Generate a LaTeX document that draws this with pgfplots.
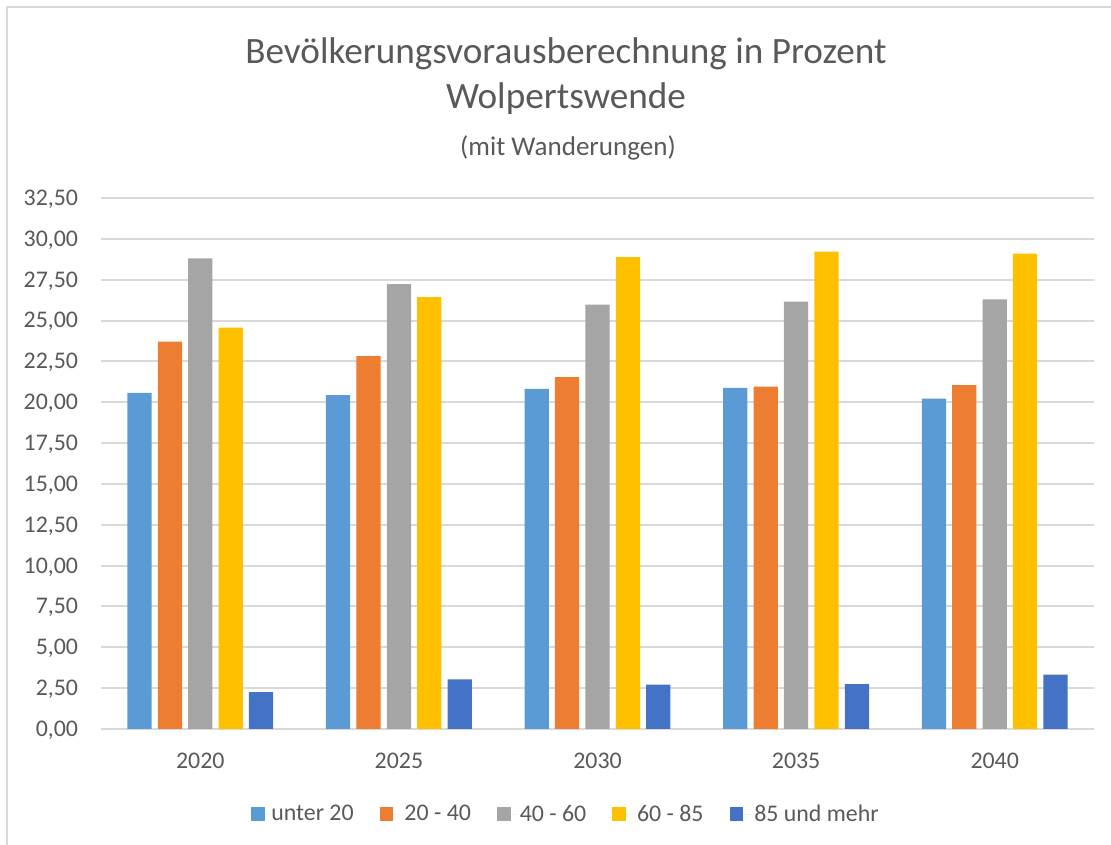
\documentclass[border=0pt]{standalone}
\usepackage{pgfplots}
\usepackage{pgfplotstable}
\usepackage{fontspec}
\setmainfont{Carlito}
\pgfplotsset{compat=1.18}
\definecolor{cA}{HTML}{5B9BD5}
\definecolor{cB}{HTML}{ED7D31}
\definecolor{cC}{HTML}{A5A5A5}
\definecolor{cD}{HTML}{FFC000}
\definecolor{cE}{HTML}{4472C4}
\definecolor{gridc}{HTML}{D9D9D9}
\definecolor{txt}{HTML}{595959}
\pgfplotstableread{
x u20 a2040 a4060 a6085 a85
0 20.57 23.71 28.80 24.57 2.25
1 20.43 22.82 27.23 26.43 3.03
2 20.82 21.53 25.98 28.88 2.72
3 20.88 20.96 26.16 29.21 2.74
4 20.22 21.04 26.29 29.09 3.33
}\datatable
\begin{document}
\begin{tikzpicture}
\useasboundingbox (0,0) rectangle (833.25pt,633.75pt);
\draw[gridc, line width=1.5pt] (5.6pt,0) -- (5.6pt,628.6pt) -- (833.25pt,628.6pt);
\node[txt, anchor=base, inner sep=0pt, font=\fontsize{27.9}{32}\selectfont] at (424.5pt,585.75pt) {Bevölkerungsvorausberechnung in Prozent};
\node[txt, anchor=base, inner sep=0pt, font=\fontsize{27.9}{32}\selectfont] at (424.5pt,552pt) {Wolpertswende};
\node[txt, anchor=base, inner sep=0pt, font=\fontsize{20.3}{24}\selectfont] at (426pt,517.1pt) {(mit Wanderungen)};
\begin{axis}[
  at={(75.75pt,87pt)}, anchor=south west,
  scale only axis, width=744.75pt, height=398.25pt,
  xmin=-0.5, xmax=4.5, ymin=0, ymax=32.5,
  ybar=4.6pt, bar width=18.2pt,
  axis line style={draw=none},
  major tick length=0pt,
  ymajorgrids, grid style={gridc, line width=1.5pt},
  ytick distance=2.5,
  xtick={0,1,2,3,4},
  xticklabels={2020,2025,2030,2035,2040},
  /pgf/number format/fixed,
  /pgf/number format/fixed zerofill,
  /pgf/number format/precision=2,
  /pgf/number format/use comma,
  /pgf/number format/1000 sep={},
  /pgf/number format/assume math mode=true,
  ticklabel style={txt, font=\fontsize{17.9}{21}\selectfont, inner sep=0pt},
  yticklabel style={anchor=base east, xshift=-17pt, yshift=-5.6pt},
  xticklabel style={anchor=base, yshift=-30pt},
  legend columns=5,
  legend style={at={(0.1511,-0.1601)}, anchor=west, draw=none, fill=none, inner sep=0pt,
    nodes={inner sep=0pt, text=txt, font=\fontsize{17.9}{21}\selectfont},
    /tikz/every even column/.append style={column sep=19.6pt}},
  legend image code/.code={\fill[#1] (0pt,-5.1pt) rectangle (10.2pt,5.1pt); \path (0pt,0pt) -- (15pt,0pt);},
]
\addplot[fill=cA, draw=none] table[x=x, y=u20] {\datatable};
\addplot[fill=cB, draw=none] table[x=x, y=a2040] {\datatable};
\addplot[fill=cC, draw=none] table[x=x, y=a4060] {\datatable};
\addplot[fill=cD, draw=none] table[x=x, y=a6085] {\datatable};
\addplot[fill=cE, draw=none] table[x=x, y=a85] {\datatable};
\legend{unter 20, \hspace{3.5pt}20 - 40, \hspace{2pt}40 - 60, \hspace{3.5pt}60 - 85, \hspace{3.5pt}85 und mehr}
\end{axis}
\end{tikzpicture}
\end{document}
